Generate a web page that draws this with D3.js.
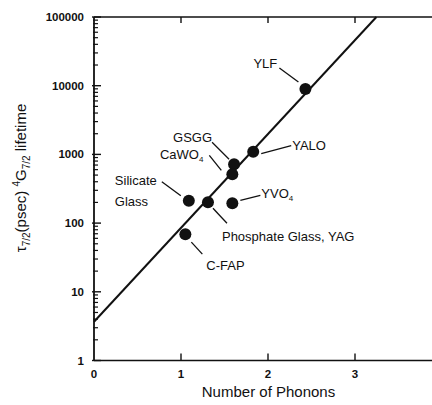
<!DOCTYPE html>
<html>
<head>
<meta charset="utf-8">
<script src="https://cdn.jsdelivr.net/npm/d3@7"></script>
<style>
  body { margin: 0; background: #fff; }
  svg { font-family: "Liberation Sans", Arial, Helvetica, sans-serif; }
</style>
</head>
<body>
<svg id="chart" width="432" height="405"></svg>
<script>
// data
var materials = ["YLF", "YALO", "GSGG", "CaWO4", "Silicate Glass", "Phosphate Glass, YAG", "YVO4", "C-FAP"];
var phonons   = [2.43, 1.83, 1.61, 1.59, 1.09, 1.31, 1.59, 1.05];
var lifetimes = [8950, 1095, 717, 513, 212, 201, 194, 69];

// fitted line end points
var fitPhonons  = [0, 3.246];
var fitLifetime = [3.67, 100000];

var xTicks = [0, 1, 2, 3];
var yTicks = [1, 10, 100, 1000, 10000, 100000];

// label placement: dx,dy of text, leader start/end relative to the point
var labelLayout = {
  "YLF":                  { lines: ["YLF"], anchor: "start", tx: -52, ty: -26, l: [-26, -21, -7, -7] },
  "YALO":                 { lines: ["YALO"], anchor: "start", tx: 39, ty: -6, l: [8, 2, 38, -6] },
  "GSGG":                 { lines: ["GSGG"], anchor: "end", tx: -22, ty: -27, l: [-22, -22, -5, -5] },
  "CaWO4":                { lines: ["CaWO4"], anchor: "end", tx: -29, ty: -20, l: [-23, -19, -11, -4] },
  "Silicate Glass":       { lines: ["Silicate", "Glass"], anchor: "start", tx: -74, ty: -20, l: [-27, -19, -8, -5] },
  "Phosphate Glass, YAG": { lines: ["Phosphate Glass, YAG"], anchor: "start", tx: 14, ty: 34, l: [5, 6, 19, 21] },
  "YVO4":                 { lines: ["YVO4"], anchor: "start", tx: 29, ty: -10, l: [8, -3, 28, -8] },
  "C-FAP":                { lines: ["C-FAP"], anchor: "start", tx: 21, ty: 31, l: [6, 8, 17, 20] }
};

var svg = d3.select("#chart");
var margin = { left: 94, top: 17, bottom: 360.5 };

var x = d3.scaleLinear().domain([0, 4]).range([margin.left, margin.left + 4 * 87]);
var y = d3.scaleLog().domain([1, 100000]).range([margin.bottom, margin.top]);

var ink = "#111";

// frame: left, bottom and top lines (right side runs off the picture)
svg.append("line").attr("x1", x(0)).attr("x2", x(0)).attr("y1", y(100000)).attr("y2", y(1))
  .attr("stroke", ink).attr("stroke-width", 1.8);
svg.append("line").attr("x1", x(0)).attr("x2", 432).attr("y1", y(1)).attr("y2", y(1))
  .attr("stroke", ink).attr("stroke-width", 1.6);
svg.append("line").attr("x1", x(0)).attr("x2", 432).attr("y1", y(100000)).attr("y2", y(100000))
  .attr("stroke", ink).attr("stroke-width", 1.6);

// y ticks, major and minor, pointing inward
var minor = [];
yTicks.slice(0, -1).forEach(function(d) {
  for (var k = 2; k <= 9; k++) minor.push(d * k);
});
svg.selectAll("line.ymin").data(minor).enter().append("line")
  .attr("x1", x(0) - 1).attr("x2", x(0) + 4)
  .attr("y1", function(d) { return y(d); }).attr("y2", function(d) { return y(d); })
  .attr("stroke", ink).attr("stroke-width", 1.2);
svg.selectAll("line.ymaj").data(yTicks).enter().append("line")
  .attr("x1", x(0) - 2).attr("x2", x(0) + 7)
  .attr("y1", function(d) { return y(d); }).attr("y2", function(d) { return y(d); })
  .attr("stroke", ink).attr("stroke-width", 1.4);
svg.selectAll("text.ylab").data(yTicks).enter().append("text")
  .attr("x", x(0) - 10).attr("y", function(d) { return y(d); })
  .attr("dy", "0.35em").attr("text-anchor", "end")
  .attr("font-size", 11.5).attr("font-weight", "bold").attr("fill", ink)
  .text(function(d) { return d; });

// x ticks, bottom and top
svg.selectAll("line.xb").data(xTicks.slice(1)).enter().append("line")
  .attr("x1", function(d) { return x(d); }).attr("x2", function(d) { return x(d); })
  .attr("y1", y(1)).attr("y2", y(1) - 7)
  .attr("stroke", ink).attr("stroke-width", 1.4);
svg.selectAll("line.xt").data(xTicks.slice(1)).enter().append("line")
  .attr("x1", function(d) { return x(d); }).attr("x2", function(d) { return x(d); })
  .attr("y1", y(100000)).attr("y2", y(100000) + 6)
  .attr("stroke", ink).attr("stroke-width", 1.4);
svg.selectAll("text.xlab").data(xTicks).enter().append("text")
  .attr("x", function(d) { return x(d); }).attr("y", y(1) + 17)
  .attr("text-anchor", "middle")
  .attr("font-size", 11.5).attr("font-weight", "bold").attr("fill", ink)
  .text(function(d) { return d; });

// axis titles
svg.append("text")
  .attr("x", 268.5).attr("y", 397)
  .attr("text-anchor", "middle").attr("font-size", 15).attr("fill", ink)
  .text("Number of Phonons");

var yt = svg.append("text")
  .attr("transform", "translate(26," + 178 + ") rotate(-90)")
  .attr("text-anchor", "middle").attr("font-size", 15).attr("fill", ink);
yt.append("tspan").text("\u03c4");
yt.append("tspan").attr("font-size", 10).attr("dy", 4).text("7/2");
yt.append("tspan").attr("dy", -4).text("(psec) ");
yt.append("tspan").attr("font-size", 10).attr("dy", -6).text("4");
yt.append("tspan").attr("dy", 6).text("G");
yt.append("tspan").attr("font-size", 10).attr("dy", 4).text("7/2");
yt.append("tspan").attr("dy", -4).text(" lifetime");

// fitted line
var fit = d3.range(fitPhonons.length).map(function(i) { return [fitPhonons[i], fitLifetime[i]]; });
svg.append("path")
  .datum(fit)
  .attr("d", d3.line().x(function(d) { return x(d[0]); }).y(function(d) { return y(d[1]); }))
  .attr("fill", "none").attr("stroke", ink).attr("stroke-width", 2);

// points
var pts = materials.map(function(m, i) { return { name: m, n: phonons[i], t: lifetimes[i] }; });
svg.selectAll("circle.pt").data(pts).enter().append("circle")
  .attr("cx", function(d) { return x(d.n); })
  .attr("cy", function(d) { return y(d.t); })
  .attr("r", 6).attr("fill", ink);

// annotations
var ann = svg.selectAll("g.ann").data(pts).enter().append("g")
  .attr("transform", function(d) { return "translate(" + x(d.n) + "," + y(d.t) + ")"; });
ann.append("line")
  .attr("x1", function(d) { return labelLayout[d.name].l[0]; })
  .attr("y1", function(d) { return labelLayout[d.name].l[1]; })
  .attr("x2", function(d) { return labelLayout[d.name].l[2]; })
  .attr("y2", function(d) { return labelLayout[d.name].l[3]; })
  .attr("stroke", ink).attr("stroke-width", 1.3);
ann.each(function(d) {
  var lay = labelLayout[d.name];
  var t = d3.select(this).append("text")
    .attr("x", lay.tx).attr("y", lay.ty)
    .attr("text-anchor", lay.anchor)
    .attr("font-size", 13).attr("fill", ink);
  lay.lines.forEach(function(s, i) {
    var sp = t.append("tspan").attr("x", lay.tx).attr("dy", i === 0 ? "0.35em" : 21);
    var m = s.match(/^(.*O)4$/);
    if (m) {
      sp.text(m[1]);
      t.append("tspan").attr("font-size", 8).attr("dy", 3).text("4");
    } else {
      sp.text(s);
    }
  });
});
</script>
</body>
</html>
